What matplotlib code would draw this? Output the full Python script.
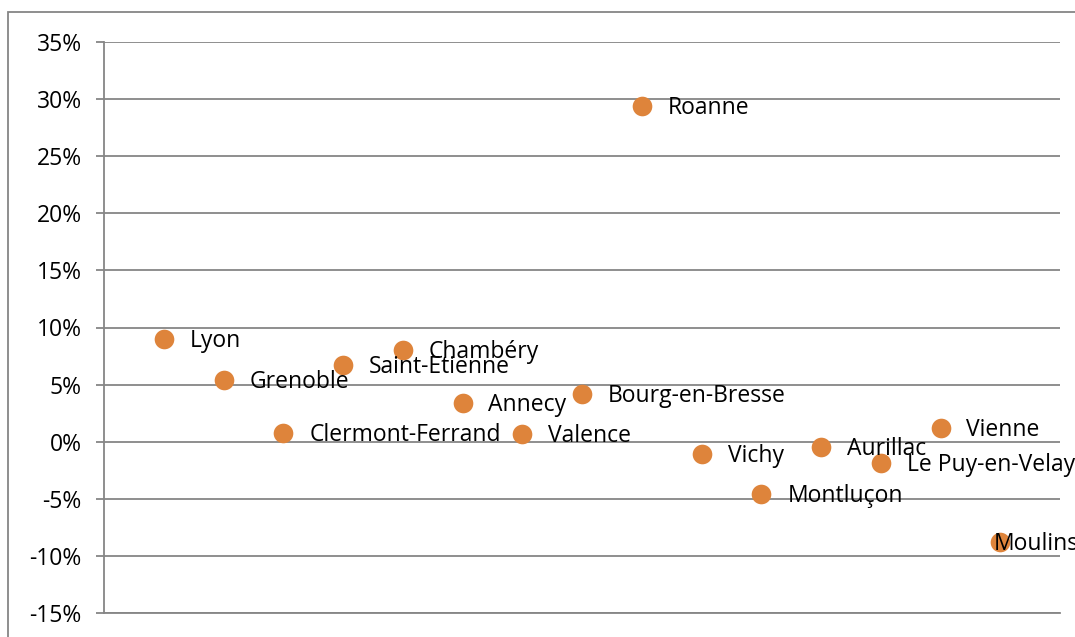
import matplotlib
matplotlib.use("Agg")
import matplotlib.pyplot as plt
from matplotlib.patches import Rectangle
from matplotlib.ticker import FuncFormatter

cities = ["Lyon", "Grenoble", "Clermont-Ferrand", "Saint-Etienne", "Chambéry",
          "Annecy", "Valence", "Bourg-en-Bresse", "Roanne", "Vichy",
          "Montluçon", "Aurillac", "Le Puy-en-Velay", "Vienne", "Moulins"]
values = [9.0, 5.4, 0.8, 6.7, 8.0, 3.4, 0.7, 4.2, 29.4, -1.05,
          -4.6, -0.45, -1.9, 1.2, -8.8]
yticks = [-15, -10, -5, 0, 5, 10, 15, 20, 25, 30, 35]

W, H, DPI = 1075, 637, 100
fig = plt.figure(figsize=(W / DPI, H / DPI), dpi=DPI)
plt.rcParams['font.family'] = ['Open Sans', 'DejaVu Sans']

ax = fig.add_axes([104 / W, 1 - 613 / H, (1060 - 104) / W, (613 - 42) / H])
ax.set_xlim(0, 16)
ax.set_ylim(-15, 35)
xs = list(range(1, len(cities) + 1))
ax.scatter(xs, values, s=200, color="#DE843B", zorder=3, linewidths=0, clip_on=False)

for i, (x, v, name) in enumerate(zip(xs, values, cities)):
    dx = 26 if name != "Moulins" else -6
    ax.annotate(name, (x, v), xytext=(dx * 0.72, -1.5), textcoords="offset points",
                ha="left", va="center", fontsize=16.5, color="black", zorder=4,
                annotation_clip=False)

ax.set_yticks(yticks)
ax.yaxis.set_major_formatter(FuncFormatter(lambda v, p: f"{int(v)}%"))
ax.tick_params(axis="y", length=6, width=1.3, color="#868686", labelsize=16.5, pad=10)
ax.set_xticks([])
ax.grid(axis="y", color="#868686", linewidth=1.3, zorder=0)
ax.set_axisbelow(True)
for s in ["top", "right"]:
    ax.spines[s].set_visible(False)
for s in ["left", "bottom"]:
    ax.spines[s].set_color("#868686")
    ax.spines[s].set_linewidth(1.3)

fig.patches.append(Rectangle((8 / W, -0.1), 1.2, 1 - 12 / H + 0.1, transform=fig.transFigure,
                             fill=False, edgecolor="#868686", linewidth=1.3))

fig.savefig("out.png", dpi=DPI)
